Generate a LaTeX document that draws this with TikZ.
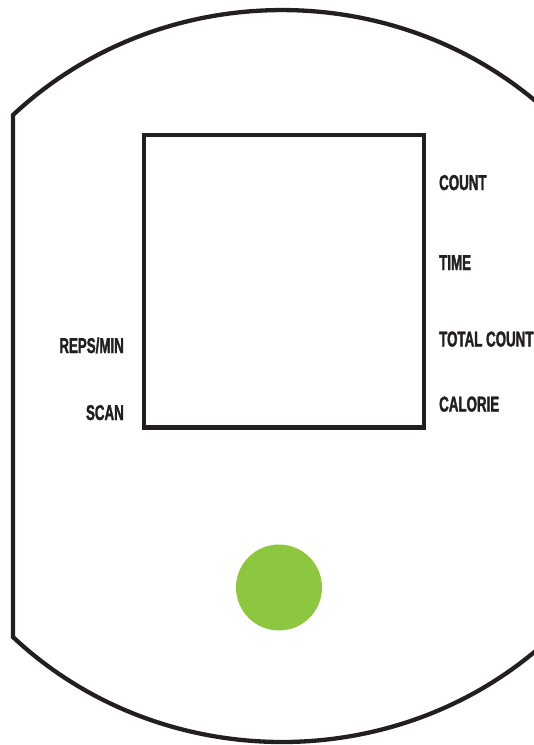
\documentclass[tikz,border=0pt]{standalone}
\usepackage{fontspec}
\newfontfamily\panelfont{Liberation Sans}[FakeStretch=0.62, FakeBold=1.5]
\usetikzlibrary{positioning, calc}

\definecolor{inkdark}{HTML}{231F20}
\definecolor{btngreen}{HTML}{8DC63F}

\begin{document}
\begin{tikzpicture}[x=1pt, y=-1pt, line join=miter,
  every node/.style={font=\panelfont\bfseries\fontsize{21.5}{22}\selectfont, text=inkdark, inner sep=0pt},
  rlabel/.style={anchor=base west},
  llabel/.style={anchor=base east}
]
  \useasboundingbox (0,0) rectangle (534,745);
  \clip (0,0) rectangle (534,745);

  % outer housing: big ellipse cut flat on the left
  \coordinate (C) at (282,376);
  \draw[inkdark, line width=4.3pt] (13,115)
    arc[start angle=225.5, end angle=494.5, x radius=384, y radius=366] -- cycle;

  % display window
  \draw[inkdark, line width=4.6pt] (144,135) rectangle (424,427.5);

  % labels right of the display
  \node[rlabel] (count)  at (439,190)   {COUNT};
  \node[rlabel] (time)   at (439,270)   {TIME};
  \node[rlabel] (total)  at (439,346.5) {TOTAL COUNT};
  \node[rlabel] (calorie) at (439,411.5) {CALORIE};

  % labels left of the display
  \node[llabel] (reps) at (124,353) {REPS/MIN};
  \node[llabel] (scan) at (124,420) {SCAN};

  % button
  \fill[btngreen] (279,587.5) circle[radius=43];
\end{tikzpicture}
\end{document}
